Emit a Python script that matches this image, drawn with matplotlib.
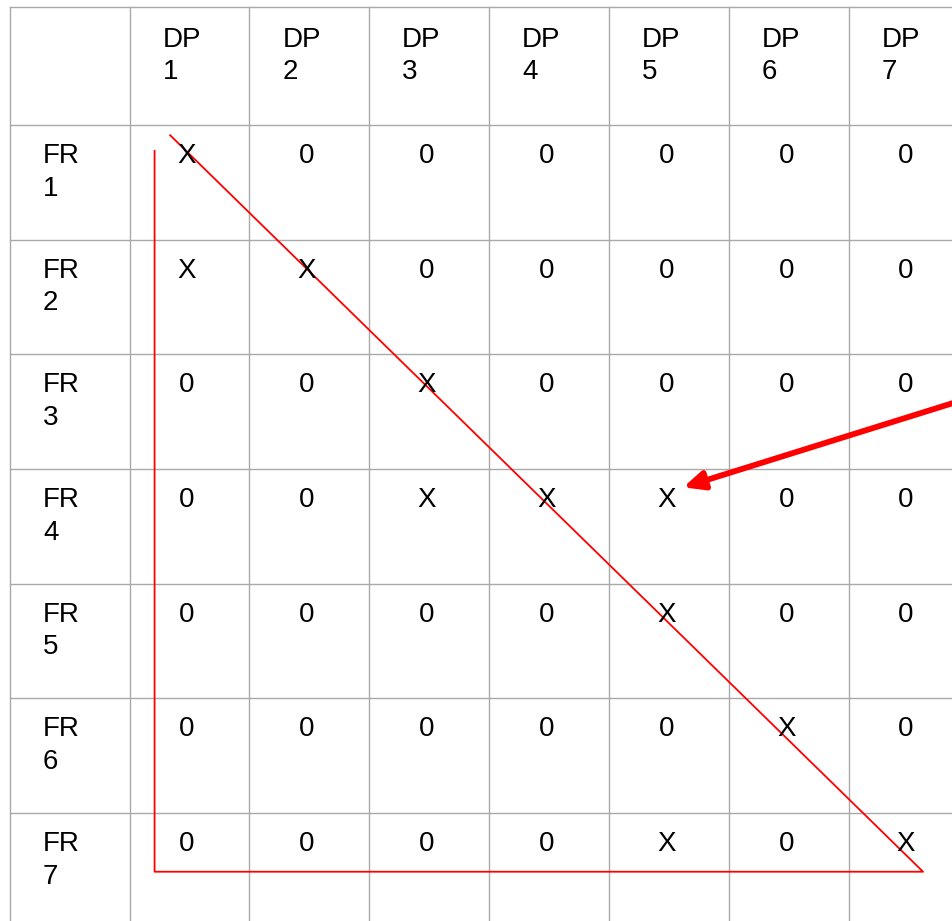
import matplotlib.pyplot as plt

# table content
dp_labels = ["DP\n1", "DP\n2", "DP\n3", "DP\n4", "DP\n5", "DP\n6", "DP\n7"]
fr_labels = ["FR\n1", "FR\n2", "FR\n3", "FR\n4", "FR\n5", "FR\n6", "FR\n7"]
cells = [
    ["X", "0", "0", "0", "0", "0", "0"],
    ["X", "X", "0", "0", "0", "0", "0"],
    ["0", "0", "X", "0", "0", "0", "0"],
    ["0", "0", "X", "X", "X", "0", "0"],
    ["0", "0", "0", "0", "X", "0", "0"],
    ["0", "0", "0", "0", "0", "X", "0"],
    ["0", "0", "0", "0", "X", "0", "X"],
]

# red triangle drawn over the matrix (in cell units)
tri_x = [0.339, 6.622, 0.209, 0.209]
tri_y = [0.087, 6.513, 6.513, 0.224]
# arrow pointing at FR4 / DP5
arrow_tip = (4.621, 3.159)
arrow_tail = (7.098, 2.35)

plt.rcParams['font.family'] = ['Liberation Sans', 'DejaVu Sans']

fig = plt.figure(figsize=(9.53, 9.21), dpi=100)
ax = fig.add_axes([0, 0, 1, 1])
ax.set_xlim(-1.081, 6.872)
ax.set_ylim(6.943, -1.093)
ax.axis('off')

grid_col = '#a9a9a9'
head_top = -1.028
n = len(dp_labels)

# grid lines
for j in range(-1, n):
    ax.plot([j, j], [head_top, 7.5], color=grid_col, lw=1.0, clip_on=False)
for i in [head_top] + list(range(n)):
    ax.plot([-1, 7.5], [i, i], color=grid_col, lw=1.0, clip_on=False)

fs = 20
ls = 1.33
for j, lab in enumerate(dp_labels):
    ax.text(j + 0.275, head_top + 0.168, lab, fontsize=fs, ha='left', va='top', linespacing=ls)
for i, lab in enumerate(fr_labels):
    ax.text(-1 + 0.278, i + 0.157, lab, fontsize=fs, ha='left', va='top', linespacing=ls)
    for j, v in enumerate(cells[i]):
        ax.text(j + 0.48, i + 0.157, v, fontsize=fs, ha='center', va='top')

ax.plot(tri_x, tri_y, color='#ff0000', lw=1.3)
ax.annotate('', xy=arrow_tip, xytext=arrow_tail,
            arrowprops=dict(arrowstyle='-|>,head_length=1.2,head_width=0.55',
                            color='#ff0000', lw=4.2, shrinkA=0, shrinkB=0))

fig.savefig('out.png', dpi=100)
